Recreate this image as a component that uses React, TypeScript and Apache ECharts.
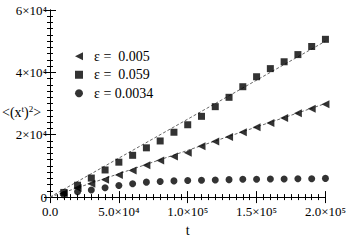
import React, { useEffect, useRef } from "react";
import * as echarts from "echarts";

// time values t (1e4 ... 2e5)
const tValues = [
  10000, 20000, 30000, 40000, 50000, 60000, 70000, 80000, 90000, 100000,
  110000, 120000, 130000, 140000, 150000, 160000, 170000, 180000, 190000, 200000,
];
// <(x^t)^2> for each epsilon (units of 1e4)
const eps0005 = [0.12, 0.29, 0.43, 0.56, 0.71, 0.85, 1.02, 1.17, 1.30, 1.42, 1.63, 1.78, 1.93, 2.08, 2.24, 2.38, 2.54, 2.69, 2.83, 2.98];
const eps0059 = [0.15, 0.38, 0.61, 0.87, 1.12, 1.34, 1.58, 1.80, 2.08, 2.32, 2.59, 2.90, 3.20, 3.54, 3.86, 4.12, 4.34, 4.57, 4.83, 5.06];
const eps00034 = [0.08, 0.17, 0.23, 0.30, 0.37, 0.43, 0.48, 0.50, 0.52, 0.53, 0.54, 0.55, 0.56, 0.57, 0.57, 0.58, 0.58, 0.59, 0.59, 0.60];
// dashed fit lines [t, value]
const fitLine0059 = [[0, 0], [200000, 50000]];
const fitLine0005 = [[0, 0], [200000, 30000]];

const seriesNames = ["ε =  0.005", "ε =  0.059", "ε = 0.0034"];

// tick labels
const xTickValues = [0, 50000, 100000, 150000, 200000];
const xTickLabels = ["0.0", "5.0×10⁴", "1.0×10⁵", "1.5×10⁵", "2.0×10⁵"];
const yTickValues = [0, 20000, 40000, 60000];
const yTickLabels = ["0", "2×10⁴", "4×10⁴", "6×10⁴"];

const FONT = "Liberation Serif";

const toPairs = (vals: number[]) => vals.map((v, i) => [tValues[i], v * 10000]);

export default function App() {
  const ref = useRef<HTMLDivElement>(null);
  useEffect(() => {
    if (!ref.current) return;
    const chart = echarts.init(ref.current, undefined, { renderer: "svg" });
    const xFmt = (v: number) => {
      const i = xTickValues.findIndex((x) => Math.abs(x - v) < 1e-6);
      return i < 0 ? "" : xTickLabels[i];
    };
    const yFmt = (v: number) => {
      const i = yTickValues.findIndex((x) => Math.abs(x - v) < 1e-6);
      return i < 0 ? "" : yTickLabels[i];
    };
    const axisCommon = {
      type: "value" as const,
      axisLine: { show: true, lineStyle: { color: "#000", width: 1 } },
      axisTick: { show: true, inside: true, length: 6, lineStyle: { color: "#000" } },
      minorTick: { show: true, splitNumber: 10, length: 3, lineStyle: { color: "#000" } },
      splitLine: { show: false },
      minorSplitLine: { show: false },
    };
    const scatterCommon = {
      type: "scatter" as const,
      itemStyle: { color: "#000" },
    };
    chart.setOption({
      animation: false,
      backgroundColor: "#fff",
      textStyle: { fontFamily: FONT },
      grid: { left: 50, right: 22, top: 10, bottom: 35 },
      xAxis: [
        {
          ...axisCommon,
          min: 0,
          max: 200000,
          interval: 50000,
          position: "bottom",
          name: "t",
          nameLocation: "middle",
          nameGap: 21,
          nameTextStyle: { fontFamily: FONT, fontSize: 14, color: "#000" },
          axisLabel: { margin: 8, formatter: xFmt, fontFamily: FONT, fontSize: 13, color: "#000" },
        },
        { ...axisCommon, min: 0, max: 200000, interval: 50000, position: "top", axisLabel: { show: false } },
      ],
      yAxis: [
        {
          ...axisCommon,
          min: 0,
          max: 60000,
          interval: 20000,
          position: "left",
          axisLabel: { margin: 3, formatter: yFmt, fontFamily: FONT, fontSize: 13, color: "#000" },
        },
        { ...axisCommon, min: 0, max: 60000, interval: 20000, position: "right", axisLabel: { show: false } },
      ],
      legend: {
        data: [
          { name: seriesNames[0], icon: "path://M9,0L0,4.5L9,9Z" },
          { name: seriesNames[1] },
          { name: seriesNames[2] },
        ],
        orient: "vertical",
        left: 70,
        top: 42,
        itemWidth: 8,
        itemHeight: 8,
        itemGap: 0,
        textStyle: { fontFamily: FONT, fontSize: 14, lineHeight: 18.5, color: "#000", padding: [0, 0, 0, 6] },
      },
      graphic: [
        {
          type: "text",
          left: 2,
          top: 104,
          style: {
            text: "{m|<(x}{s|t}{m|)}{s|2}{m|>}",
            rich: {
              m: { fontSize: 14, fontFamily: FONT, color: "#000" },
              s: { fontSize: 9, fontFamily: FONT, color: "#000", padding: [0, 0, 7, 0] },
            },
          },
        },
      ],
      series: [
        { type: "line", data: fitLine0059, symbol: "none", silent: true, lineStyle: { color: "#666", width: 1, type: [3, 2] }, z: 1 },
        { type: "line", data: fitLine0005, symbol: "none", silent: true, lineStyle: { color: "#666", width: 1, type: [3, 2] }, z: 1 },
        { ...scatterCommon, name: seriesNames[0], data: toPairs(eps0005), symbol: "triangle", symbolRotate: 90, symbolSize: 8 },
        { ...scatterCommon, name: seriesNames[1], data: toPairs(eps0059), symbol: "rect", symbolSize: 7 },
        { ...scatterCommon, name: seriesNames[2], data: toPairs(eps00034), symbol: "circle", symbolSize: 7 },
      ],
    });
    return () => chart.dispose();
  }, []);
  return <div ref={ref} style={{ width: 349, height: 242, position: "absolute", left: 0, top: 0 }} />;
}
